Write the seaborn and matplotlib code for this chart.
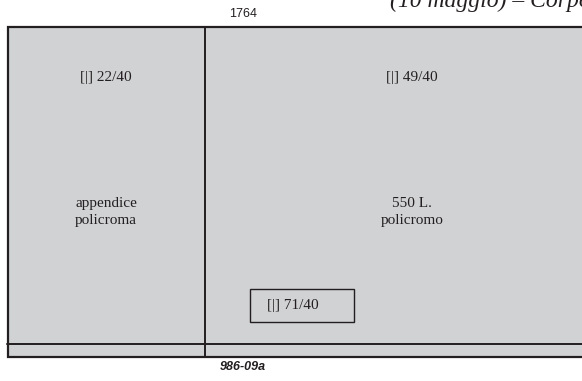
import matplotlib
matplotlib.use("Agg")
import matplotlib.pyplot as plt
from matplotlib.patches import Rectangle
import seaborn as sns

# texts of the sheet layout
header_text = "(10 maggio) – Corpo"
year_label = "1764"
plate_label = "986-09a"
cell_codes = ["[|] 22/40", "[|] 49/40"]
cell_names = ["appendice\npolicroma", "550 L.\npolicromo"]
inset_code = "[|] 71/40"

sns.set_theme(style="white")
plt.rcParams['font.family'] = ['Liberation Serif', 'DejaVu Serif']

fill = "#d1d2d4"
ink = "#231f20"

fig = plt.figure(figsize=(5.82, 3.81), dpi=100)
ax = fig.add_axes([0, 0, 1, 1])
ax.set_xlim(0, 582)
ax.set_ylim(381, 0)
ax.axis('off')

# sheet body
ax.add_patch(Rectangle((8, 27), 590, 330, facecolor=fill, edgecolor=ink, lw=1.6))
ax.plot([205, 205], [27, 357], color=ink, lw=1.4)
ax.plot([7, 590], [344, 344], color=ink, lw=1.4)

# cell texts
centers = [106, 412]
for cx, code, name in zip(centers, cell_codes, cell_names):
    ax.text(cx, 78, code, ha='center', va='center', fontsize=11, color=ink)
    ax.text(cx, 212, name, ha='center', va='center', fontsize=11, color=ink,
            linespacing=1.4)

# small inset box
ax.add_patch(Rectangle((250, 289), 104, 33, facecolor='none', edgecolor=ink, lw=1.0))
ax.text(293, 306, inset_code, ha='center', va='center', fontsize=11, color=ink)

# header / footer
ax.text(243, 14, year_label, ha='center', va='center', fontsize=9, color=ink,
        family=['Liberation Sans', 'DejaVu Sans'])
ax.text(243, 367, plate_label, ha='center', va='center', fontsize=9, color=ink,
        family=['Liberation Sans', 'DejaVu Sans'], fontweight='bold', style='italic')
# header runs off the top/right edge like the scanned page
ax.text(390, 7, header_text, ha='left', va='baseline', fontsize=17, color=ink,
        style='italic', clip_on=False)

fig.savefig("out.png", dpi=100)
